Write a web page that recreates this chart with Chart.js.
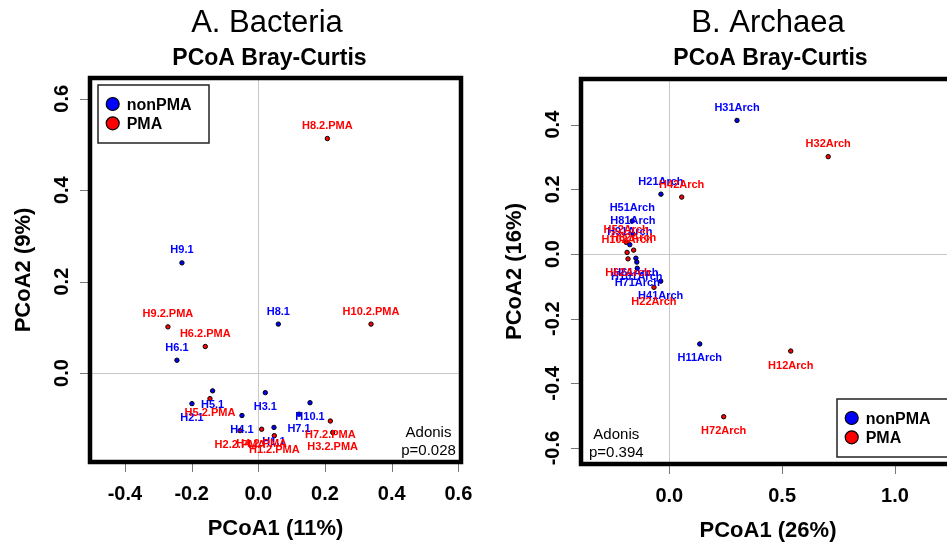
<!DOCTYPE html>
<html lang="en">
<head>
<meta charset="UTF-8">
<title>PCoA Bray-Curtis</title>
<style>
    body {
        margin: 0;
        background: #fff;
        overflow: hidden;
        width: 947px;
        height: 544px;
        position: relative;
    }
    .panel { position: absolute; top: 0; }
    #bactBox { left: 0; width: 480px; height: 544px; }
    #archBox { left: 480px; width: 490px; height: 544px; }
</style>
</head>
<body>
<div class="panel" id="bactBox"><canvas id="bactChart" width="480" height="544"></canvas></div>
<div class="panel" id="archBox"><canvas id="archChart" width="490" height="544"></canvas></div>

<script src="https://cdn.jsdelivr.net/npm/chart.js"></script>
<script>
// Bacteria, nonPMA samples
const bactNonLabels = ['H1.1', 'H2.1', 'H3.1', 'H4.1', 'H5.1', 'H6.1', 'H7.1', 'H8.1', 'H9.1', 'H10.1'];
const bactNonX = [0.047, -0.199, 0.021, -0.049, -0.137, -0.244, 0.122, 0.060, -0.229, 0.155];
const bactNonY = [-0.119, -0.067, -0.043, -0.093, -0.039, 0.028, -0.090, 0.107, 0.241, -0.065];

// Bacteria, PMA samples
const bactPmaLabels = ['H1.2.PMA', 'H2.2.PMA', 'H3.2.PMA', 'H4.2.PMA', 'H5.2.PMA', 'H6.2.PMA', 'H7.2.PMA', 'H8.2.PMA', 'H9.2.PMA', 'H10.2.PMA'];
const bactPmaX = [0.048, -0.055, 0.223, 0.010, -0.145, -0.159, 0.216, 0.207, -0.271, 0.338];
const bactPmaY = [-0.137, -0.126, -0.130, -0.123, -0.056, 0.058, -0.105, 0.513, 0.101, 0.107];

// Archaea, nonPMA samples
const archNonLabels = ['H11Arch', 'H21Arch', 'H31Arch', 'H41Arch', 'H51Arch', 'H61Arch', 'H71Arch', 'H81Arch', 'H91Arch', 'H101Arch'];
const archNonX = [0.135, -0.037, 0.300, -0.038, -0.164, -0.148, -0.142, -0.161, -0.175, -0.144];
const archNonY = [-0.278, 0.185, 0.413, -0.084, 0.102, -0.013, -0.044, 0.062, 0.029, -0.025];

// Archaea, PMA samples
const archPmaLabels = ['H12Arch', 'H22Arch', 'H32Arch', 'H42Arch', 'H52Arch', 'H62Arch', 'H72Arch', 'H82Arch', 'H102Arch'];
const archPmaX = [0.538, -0.068, 0.704, 0.055, -0.191, -0.183, 0.241, -0.158, -0.187];
const archPmaY = [-0.300, -0.103, 0.301, 0.176, 0.036, -0.015, -0.503, 0.012, 0.005];

// axis ticks
const bactXTicks = [-0.4, -0.2, 0, 0.2, 0.4, 0.6];
const bactXTickLabels = ['-0.4', '-0.2', '0.0', '0.2', '0.4', '0.6'];
const bactYTicks = [0, 0.2, 0.4, 0.6];
const bactYTickLabels = ['0.0', '0.2', '0.4', '0.6'];
const archXTicks = [0, 0.5, 1.0];
const archXTickLabels = ['0.0', '0.5', '1.0'];
const archYTicks = [-0.6, -0.4, -0.2, 0, 0.2, 0.4];
const archYTickLabels = ['-0.6', '-0.4', '-0.2', '0.0', '0.2', '0.4'];

const groupNames = ['nonPMA', 'PMA'];

const FONT = '"Liberation Sans", Arial, Helvetica, sans-serif';
const BLUE = '#0000ff';
const RED = '#ff0000';

function pts(xs, ys) {
    return xs.map((v, i) => ({ x: v, y: ys[i] }));
}

// y is the middle of the capitals
function txt(ctx, s, x, y, size, weight, color, align, rot) {
    ctx.save();
    ctx.translate(x, y);
    if (rot) ctx.rotate(rot);
    ctx.font = weight + ' ' + size + 'px ' + FONT;
    ctx.fillStyle = color;
    ctx.textAlign = align || 'center';
    ctx.textBaseline = 'alphabetic';
    ctx.fillText(s, 0, size * 0.36);
    ctx.restore();
}

function pcoaPlugin(cfg) {
    return {
        id: 'pcoa',
        beforeDatasetsDraw(chart) {
            const { ctx, chartArea: a, scales: { x, y } } = chart;
            const x0 = Math.round(x.getPixelForValue(0)) + 0.5;
            const y0 = Math.round(y.getPixelForValue(0)) + 0.5;
            ctx.save();
            ctx.strokeStyle = '#c8c8c8';
            ctx.lineWidth = 1;
            ctx.beginPath();
            ctx.moveTo(x0, a.top); ctx.lineTo(x0, a.bottom);
            ctx.moveTo(a.left, y0); ctx.lineTo(a.right, y0);
            ctx.stroke();
            ctx.restore();
        },
        afterDatasetsDraw(chart) {
            const { ctx, chartArea: a, scales: { x, y } } = chart;

            // point labels: above if y > 0, below otherwise
            chart.data.datasets.forEach((ds, d) => {
                const meta = chart.getDatasetMeta(d);
                meta.data.forEach((el, i) => {
                    const off = ds.data[i].y >= 0 ? -13.5 : 13.5;
                    txt(ctx, ds.pointLabels[i], el.x, el.y + off, 11, 'bold', ds.textColor);
                });
            });

            ctx.save();
            // ticks
            ctx.strokeStyle = '#777';
            ctx.lineWidth = 1;
            ctx.beginPath();
            cfg.xTicks.forEach(v => {
                const px = Math.round(x.getPixelForValue(v)) + 0.5;
                ctx.moveTo(px, a.bottom); ctx.lineTo(px, a.bottom + 10);
            });
            cfg.yTicks.forEach(v => {
                const py = Math.round(y.getPixelForValue(v)) + 0.5;
                ctx.moveTo(a.left - 10, py); ctx.lineTo(a.left, py);
            });
            ctx.stroke();

            // frame
            ctx.strokeStyle = '#000';
            ctx.lineWidth = 4.5;
            ctx.strokeRect(a.left, a.top, a.right - a.left, a.bottom - a.top);
            ctx.restore();

            cfg.xTicks.forEach((v, i) => {
                txt(ctx, cfg.xTickLabels[i], x.getPixelForValue(v), a.bottom + 30.5, 20, 'bold', '#000');
            });
            cfg.yTicks.forEach((v, i) => {
                txt(ctx, cfg.yTickLabels[i], a.left - 29, y.getPixelForValue(v), 20, 'bold', '#000', 'center', -Math.PI / 2);
            });

            // axis titles
            const cx = (a.left + a.right) / 2, cy = (a.top + a.bottom) / 2;
            txt(ctx, cfg.xTitle, cx, a.bottom + 65.5, 22, 'bold', '#000');
            txt(ctx, cfg.yTitle, a.left - 68, cy, 22, 'bold', '#000', 'center', -Math.PI / 2);

            // titles
            txt(ctx, cfg.title, cfg.titleX, 21, 31, 'normal', '#000');
            txt(ctx, 'PCoA Bray-Curtis', cfg.titleX + 2.5, 57, 23, 'bold', '#000');

            // Adonis note
            ctx.save();
            ctx.font = 'normal 15px ' + FONT;
            ctx.fillStyle = '#000';
            ctx.textAlign = 'center';
            ctx.fillText('Adonis', cfg.adonisX, a.bottom - 25.3);
            ctx.fillText(cfg.adonisP, cfg.adonisX, a.bottom - 7);
            ctx.restore();

            // legend
            const lw = cfg.legendPos === 'topleft' ? 111 : 118, lh = 58;
            const lx = cfg.legendPos === 'topleft' ? a.left + 8 : a.right - lw;
            const ly = cfg.legendPos === 'topleft' ? a.top + 7 : a.bottom - 7 - lh;
            ctx.save();
            ctx.fillStyle = '#fff';
            ctx.fillRect(lx, ly, lw, lh);
            ctx.strokeStyle = '#222';
            ctx.lineWidth = 1.5;
            ctx.strokeRect(lx, ly, lw, lh);
            [BLUE, RED].forEach((c, i) => {
                const ry = ly + 19 + i * 19.3;
                ctx.beginPath();
                ctx.arc(lx + 14.7, ry, 6.5, 0, Math.PI * 2);
                ctx.fillStyle = c;
                ctx.fill();
                ctx.strokeStyle = '#000';
                ctx.lineWidth = 1.2;
                ctx.stroke();
                txt(ctx, groupNames[i], lx + 28.7, ry, 16, 'bold', '#000', 'left');
            });
            ctx.restore();
        }
    };
}

function makePanel(id, cfg) {
    return new Chart(document.getElementById(id), {
        type: 'scatter',
        data: {
            datasets: [
                {
                    label: groupNames[0],
                    data: pts(cfg.nonX, cfg.nonY),
                    pointLabels: cfg.nonLabels,
                    textColor: BLUE,
                    backgroundColor: BLUE,
                    borderColor: '#000',
                    borderWidth: 1,
                    pointRadius: 2.2
                },
                {
                    label: groupNames[1],
                    data: pts(cfg.pmaX, cfg.pmaY),
                    pointLabels: cfg.pmaLabels,
                    textColor: RED,
                    backgroundColor: RED,
                    borderColor: '#000',
                    borderWidth: 1,
                    pointRadius: 2.2
                }
            ]
        },
        options: {
            responsive: false,
            animation: false,
            devicePixelRatio: 1,
            layout: { padding: cfg.padding },
            scales: {
                x: { type: 'linear', min: cfg.xMin, max: cfg.xMax, display: false },
                y: { type: 'linear', min: cfg.yMin, max: cfg.yMax, display: false }
            },
            plugins: {
                legend: { display: false },
                tooltip: { enabled: false }
            }
        },
        plugins: [pcoaPlugin(cfg)]
    });
}

makePanel('bactChart', {
    nonX: bactNonX, nonY: bactNonY, nonLabels: bactNonLabels,
    pmaX: bactPmaX, pmaY: bactPmaY, pmaLabels: bactPmaLabels,
    xTicks: bactXTicks, xTickLabels: bactXTickLabels,
    yTicks: bactYTicks, yTickLabels: bactYTickLabels,
    xMin: -0.5047, xMax: 0.6078, yMin: -0.1947, yMax: 0.6455,
    padding: { left: 90, top: 78, right: 19, bottom: 82 },
    title: 'A. Bacteria', titleX: 267,
    xTitle: 'PCoA1 (11%)', yTitle: 'PCoA2 (9%)',
    adonisX: 428.5, adonisP: 'p=0.028',
    legendPos: 'topleft'
});

makePanel('archChart', {
    nonX: archNonX, nonY: archNonY, nonLabels: archNonLabels,
    pmaX: archPmaX, pmaY: archPmaY, pmaLabels: archPmaLabels,
    xTicks: archXTicks, xTickLabels: archXTickLabels,
    yTicks: archYTicks, yTickLabels: archYTickLabels,
    xMin: -0.3912, xMax: 1.2658, yMin: -0.6491, yMax: 0.541,
    padding: { left: 101, top: 79, right: 15, bottom: 80 },
    title: 'B. Archaea', titleX: 288,
    xTitle: 'PCoA1 (26%)', yTitle: 'PCoA2 (16%)',
    adonisX: 136.3, adonisP: 'p=0.394',
    legendPos: 'bottomright'
});
</script>
</body>
</html>
